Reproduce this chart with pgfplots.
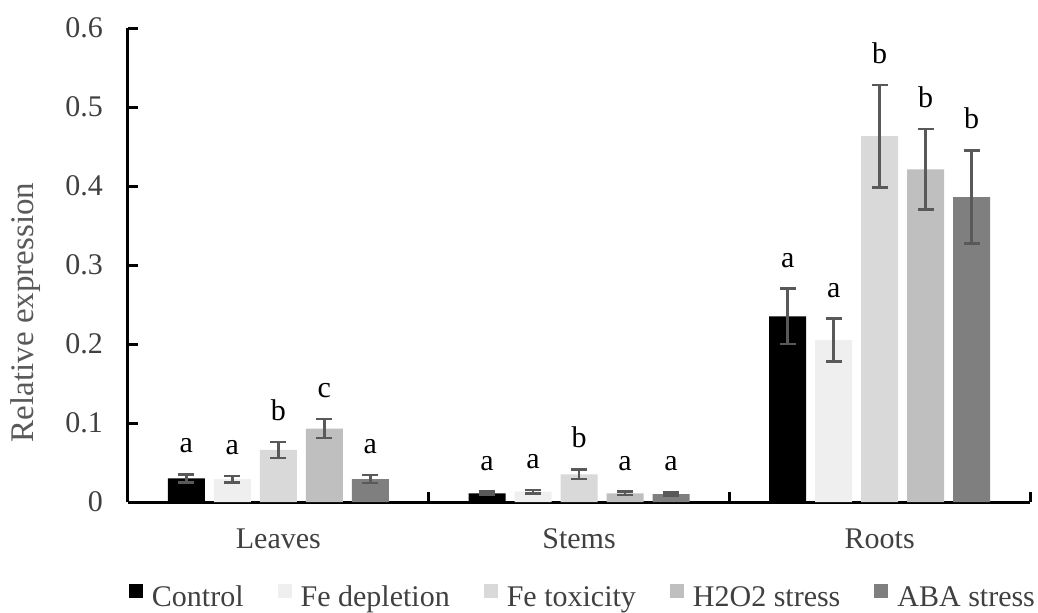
\documentclass[border=0pt]{standalone}
\usepackage{fontspec}
\setmainfont{Liberation Serif}
\usepackage{pgfplots}
\usepackage{pgfplotstable}
\pgfplotsset{compat=1.18}
\definecolor{cA}{HTML}{000000}
\definecolor{cB}{HTML}{EFEFEF}
\definecolor{cC}{HTML}{D9D9D9}
\definecolor{cD}{HTML}{BFBFBF}
\definecolor{cE}{HTML}{7F7F7F}
\definecolor{txt}{HTML}{404040}
\definecolor{err}{HTML}{595959}

\pgfplotstableread{
x y err lab
0 0.030 0.005 a
1 0.011 0.002 a
2 0.235 0.035 a
}\tA
\pgfplotstableread{
x y err lab
0 0.029 0.004 a
1 0.013 0.002 a
2 0.205 0.027 a
}\tB
\pgfplotstableread{
x y err lab
0 0.066 0.010 b
1 0.035 0.006 b
2 0.463 0.065 b
}\tC
\pgfplotstableread{
x y err lab
0 0.093 0.012 c
1 0.011 0.002 a
2 0.421 0.051 b
}\tD
\pgfplotstableread{
x y err lab
0 0.029 0.005 a
1 0.010 0.002 a
2 0.386 0.059 b
}\tE

\pgfplotsset{
  errplot/.style={draw=none, mark=none, forget plot,
    error bars/.cd, y dir=both, y explicit,
    error bar style={line width=1.25pt, err},
    error mark options={rotate=90, mark size=4pt, line width=1.25pt, err}},
  labplot/.style={draw=none, mark=none, forget plot, nodes near coords, point meta=explicit symbolic},
  barplot/.style={ybar, bar width=18.5pt, draw=none},
}

\begin{document}
\begin{tikzpicture}
\begin{axis}[
  at={(0,0)}, anchor=south west,
  scale only axis, width=451pt, height=237pt,
  xmin=-0.5, xmax=2.5, ymin=0, ymax=0.6,
  axis lines=left,
  axis line style={-, line width=1.5pt, black},
  tick align=inside,
  major tick length=5pt,
  tick style={line width=1.5pt, black},
  xtick={0.5,1.5,2.5}, xticklabels={},
  extra x ticks={0,1,2},
  extra x tick labels={Leaves,Stems,Roots},
  extra x tick style={major tick length=0pt},
  x tick label style={anchor=base, yshift=-23pt, text=txt, font=\fontsize{15}{18}\selectfont},
  ytick={0,0.1,0.2,0.3,0.4,0.5,0.6},
  yticklabels={0,0.1,0.2,0.3,0.4,0.5,0.6},
  y tick label style={xshift=-9pt, text=txt, font=\fontsize{15}{18}\selectfont},
  ylabel={Relative expression},
  ylabel style={at={(axis description cs:-0.114,0.40)}, anchor=center, text=err, font=\fontsize{16.5}{19}\selectfont},
  legend columns=5,
  legend style={at={(axis description cs:0.5055,-0.2025)}, anchor=center, draw=none, fill=none,
    font=\fontsize{15}{18}\selectfont, text=txt,
    /tikz/every odd column/.append style={column sep=2.5pt},
    /tikz/every even column/.append style={column sep=15pt}},
  legend image code/.code={\path[#1] (0pt,0pt) rectangle (7pt,7pt);},
  every node near coord/.append style={inner sep=0pt, yshift=10.5pt, text=black, font=\fontsize{15}{18}\selectfont},
]
\addplot[barplot, bar shift=-46pt, fill=cA] table[x=x, y=y]{\tA};
\addlegendentry{Control}
\addplot[barplot, bar shift=-23pt, fill=cB] table[x=x, y=y]{\tB};
\addlegendentry{Fe depletion}
\addplot[barplot, bar shift=0pt, fill=cC] table[x=x, y=y]{\tC};
\addlegendentry{Fe toxicity}
\addplot[barplot, bar shift=23pt, fill=cD] table[x=x, y=y]{\tD};
\addlegendentry{H2O2 stress}
\addplot[barplot, bar shift=46pt, fill=cE] table[x=x, y=y]{\tE};
\addlegendentry{ABA stress}

\addplot[errplot] table[x expr=\thisrow{x}-0.306, y=y, y error=err]{\tA};
\addplot[errplot] table[x expr=\thisrow{x}-0.153, y=y, y error=err]{\tB};
\addplot[errplot] table[x expr=\thisrow{x}, y=y, y error=err]{\tC};
\addplot[errplot] table[x expr=\thisrow{x}+0.153, y=y, y error=err]{\tD};
\addplot[errplot] table[x expr=\thisrow{x}+0.306, y=y, y error=err]{\tE};

\addplot[labplot] table[x expr=\thisrow{x}-0.306, y expr=\thisrow{y}+\thisrow{err}, meta=lab]{\tA};
\addplot[labplot] table[x expr=\thisrow{x}-0.153, y expr=\thisrow{y}+\thisrow{err}, meta=lab]{\tB};
\addplot[labplot] table[x expr=\thisrow{x}, y expr=\thisrow{y}+\thisrow{err}, meta=lab]{\tC};
\addplot[labplot] table[x expr=\thisrow{x}+0.153, y expr=\thisrow{y}+\thisrow{err}, meta=lab]{\tD};
\addplot[labplot] table[x expr=\thisrow{x}+0.306, y expr=\thisrow{y}+\thisrow{err}, meta=lab]{\tE};
\end{axis}
\pgfresetboundingbox
\useasboundingbox (-64pt,-55pt) rectangle (455pt,251pt);
\end{tikzpicture}
\end{document}
